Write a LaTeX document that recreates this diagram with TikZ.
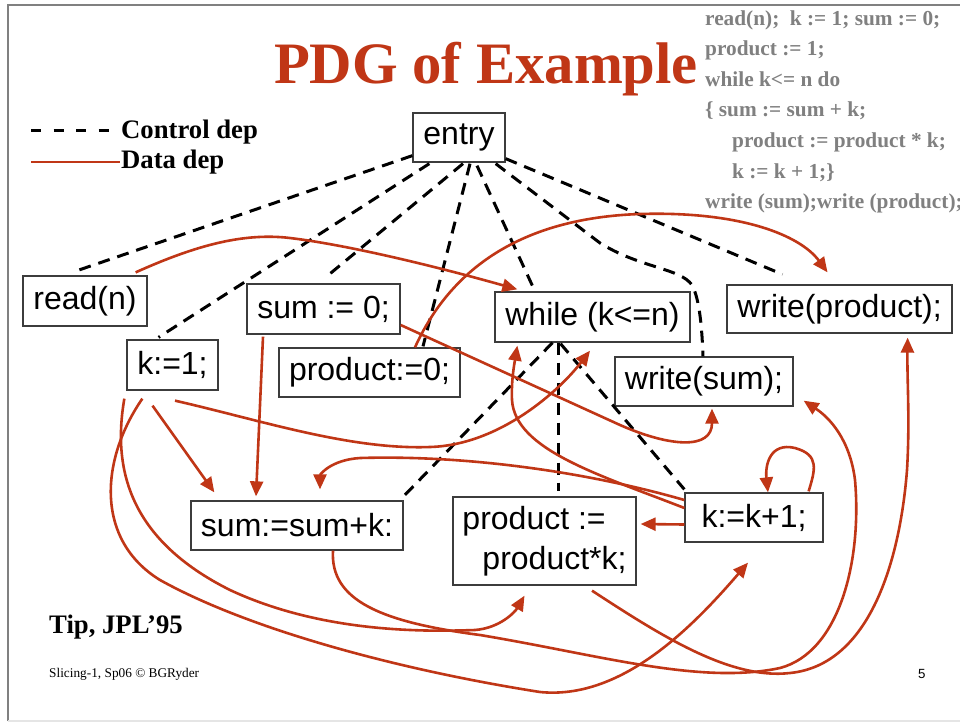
\documentclass[tikz,border=0pt]{standalone}
\usepackage{fontspec}
\setmainfont{Liberation Serif}
\newfontfamily\arialf{Liberation Sans}
\usetikzlibrary{arrows.meta}
\definecolor{pdgred}{RGB}{192,54,22}
\definecolor{codegray}{RGB}{128,128,128}
\definecolor{boxline}{RGB}{60,60,60}
\begin{document}
\begin{tikzpicture}[x=1pt,y=-1pt,
  box/.style={draw=boxline, line width=1.3pt, inner sep=0pt, align=center,
    font=\arialf\fontsize{32}{40}\selectfont},
  ctrl/.style={line width=3pt, dash pattern=on 12pt off 8pt},
  legctrl/.style={line width=3pt, dash pattern=on 10pt off 12.5pt},
  data/.style={draw=pdgred, line width=2.6pt, -{Triangle[length=15pt,width=13pt]}},
  nodata/.style={draw=pdgred, line width=2.6pt},
  codetxt/.style={anchor=base west, inner sep=0pt, text=codegray,
    font=\bfseries\fontsize{21.3}{25}\selectfont},
  legtxt/.style={anchor=base west, inner sep=0pt,
    font=\bfseries\fontsize{26.7}{30}\selectfont}
]
\useasboundingbox (0,0) rectangle (960,723);
\fill[white] (0,0) rectangle (960,723);
% frame
\draw[gray, line width=1.2pt] (8,721) -- (8,5) -- (960,5);
\draw[gray!20, line width=1.2pt] (8,721) -- (960,721);

% title
\node[anchor=base, inner sep=0pt, text=pdgred,
  font=\bfseries\fontsize{58.7}{60}\selectfont] (title) at (486,83) {PDG of Example};

% code
\node[codetxt] (c1) at (705,25) {read(n);\ \ k := 1; sum := 0;};
\node[codetxt] (c2) at (705,55.6) {product := 1;};
\node[codetxt] (c3) at (705,86.2) {while k<= n do};
\node[codetxt] (c4) at (705,116.8) {\{ sum := sum + k;};
\node[codetxt] (c5) at (732,147.4) {product := product * k;};
\node[codetxt] (c6) at (732,178) {k := k + 1;\}};
\node[codetxt] (c7) at (705,208.6) {write (sum);write (product);};

% legend
\coordinate (lc1) at (31,130);
\coordinate (lc2) at (110,130);
\draw[legctrl] (lc1) -- (lc2);
\node[legtxt] (lt1) at (121,138) {Control dep};
\coordinate (ld1) at (31,162);
\coordinate (ld2) at (120,162);
\draw[nodata] (ld1) -- (ld2);
\node[legtxt] (lt2) at (121,168) {Data dep};

% footer
\node[legtxt] (tip) at (49,633) {Tip, JPL’95};
\node[anchor=base west, inner sep=0pt, font=\fontsize{13.3}{15}\selectfont] (foot) at (49,677) {Slicing-1, Sp06 © BGRyder};
\node[anchor=base west, inner sep=0pt, font=\arialf\fontsize{13.3}{15}\selectfont] (pg) at (918,678) {5};

% nodes
\node[box, minimum width=92pt, minimum height=49pt] (entry) at (459,137.5) {entry};
\node[box, minimum width=124pt, minimum height=50pt] (read) at (85,301) {read(n)};
\node[box, minimum width=91pt, minimum height=50pt] (k1) at (172.5,365) {k:=1;};
\node[box, minimum width=153pt, minimum height=50pt] (sum0) at (323.5,309) {sum := 0;};
\node[box, minimum width=181pt, minimum height=49pt] (prod0) at (369.5,372.5) {product:=0;};
\node[box, minimum width=195pt, minimum height=50pt] (while) at (592.5,317) {while (k<=n)};
\node[box, minimum width=225pt, minimum height=48pt] (wprod) at (839.5,309) {write(product);};
\node[box, minimum width=178pt, minimum height=49pt] (wsum) at (704,381.5) {write(sum);};
\node[box, minimum width=212pt, minimum height=49pt] (sumk) at (297,525.5) {sum:=sum+k:};
\node[box, minimum width=183pt, minimum height=88pt, align=left] (prodk) at (544.5,541) {product :=\\\hspace*{20pt}product*k;};
\node[box, minimum width=138pt, minimum height=49pt] (kk) at (754,517.5) {k:=k+1;};

% control dependences
\draw[ctrl] ([shift={(0,-7)}]entry.south west) -- ([shift={(-10,-4)}]read.north);
\draw[ctrl] ([shift={(17,1)}]entry.south west) -- ([shift={(-14,-2)}]k1.north);
\draw[ctrl] ([shift={(4,1)}]entry.south) -- ([shift={(4.5,-8)}]sum0.north);
\draw[ctrl] ([shift={(11,1)}]entry.south) -- ([shift={(53.5,-1)}]prod0.north);
\draw[ctrl] ([shift={(18,3)}]entry.south) -- ([shift={(-57.5,0)}]while.north);
\draw[ctrl] ([shift={(-10,1)}]entry.south east) -- (600,243)
  .. controls (640,268) and (680,268) .. (692,285)
  .. controls (700,300) and (702,330) .. ([shift={(-1,0)}]wsum.north);
\draw[ctrl] ([shift={(0,-4)}]entry.south east) -- ([shift={(-57,-10)}]wprod.north);
\draw[ctrl] ([shift={(-40,0)}]while.south) -- ([shift={(-3,-1)}]sumk.north east);
\draw[ctrl] ([shift={(-34.5,0)}]while.south) -- ([shift={(13.5,-5)}]prodk.north);
\draw[ctrl] ([shift={(-32,1)}]while.south) -- ([shift={(0,-3)}]kk.north west);

% data dependences
\draw[data] ([shift={(-12,-3)}]read.north east)
  .. controls (190,248) and (240,232) .. (290,238)
  .. controls (340,244) and (420,262) .. ([shift={(23,-2)}]while.north west);
\draw[data] ([shift={(45.5,0)}]prod0.north)
  .. controls (450,270) and (520,218) .. (640,214)
  .. controls (740,211) and (800,235) .. ([shift={(-12,-12)}]wprod.north);
\draw[data] ([shift={(0,16)}]sum0.east) -- (620,425)
  .. controls (670,447) and (712,450) .. ([shift={(8,2)}]wsum.south);
\draw[data] ([shift={(-60.5,2)}]sum0.south) -- ([shift={(-41,-4)}]sumk.north);
\draw[data] ([shift={(-20,15)}]k1.south) -- ([shift={(24,-8)}]sumk.north west);
\draw[data] ([shift={(2.5,10)}]k1.south)
  .. controls (260,420) and (350,450) .. (430,447)
  .. controls (500,445) and (560,390) .. ([shift={(-2.5,8)}]while.south);
\draw[data] ([shift={(0,-17.5)}]kk.west)
  .. controls (580,470) and (460,455) .. (360,458)
  .. controls (330,460) and (320,475) .. ([shift={(23,-11)}]sumk.north);
\draw[data] ([shift={(0,-9.5)}]kk.west)
  .. controls (600,475) and (515,450) .. (512,400)
  .. controls (511,380) and (515,360) .. ([shift={(23,3)}]while.south west);
\draw[data] ([shift={(0,7)}]kk.west) -- ([shift={(4,-17)}]prodk.east);
\draw[data] ([shift={(-15,-1)}]kk.north east)
  .. controls (815,470) and (820,455) .. (795,448)
  .. controls (770,442) and (765,465) .. ([shift={(14,0)}]kk.north);
\draw[data] ([shift={(-2,8)}]k1.south west)
  .. controls (112,470) and (130,540) .. (230,590)
  .. controls (320,632) and (420,632) .. (475,630)
  .. controls (500,628) and (515,612) .. ([shift={(-20,10)}]prodk.south);
\draw[data] ([shift={(16,8)}]k1.south west)
  .. controls (100,460) and (95,540) .. (160,580)
  .. controls (250,630) and (400,670) .. (540,692)
  .. controls (620,700) and (690,630) .. ([shift={(-6,20)}]kk.south);
\draw[data] ([shift={(36,0)}]sumk.south)
  .. controls (330,600) and (380,622) .. (480,635)
  .. controls (600,655) and (700,685) .. (780,668)
  .. controls (840,652) and (862,560) .. (855,480)
  .. controls (850,440) and (830,418) .. ([shift={(10,-6)}]wsum.south east);
\draw[data] ([shift={(47.5,5)}]prodk.south)
  .. controls (660,635) and (730,680) .. (790,673)
  .. controls (870,665) and (900,560) .. (907,470)
  .. controls (910,420) and (907,380) .. ([shift={(-45,4)}]wprod.south east);
\end{tikzpicture}
\end{document}
